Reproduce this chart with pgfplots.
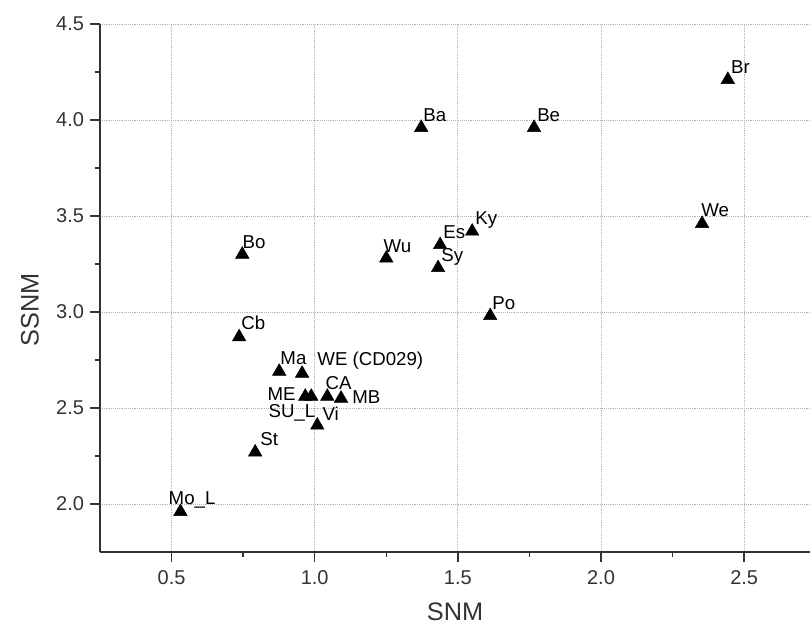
\documentclass[border=0pt]{standalone}
\usepackage{pgfplots}
\pgfplotsset{compat=1.18}
\usepackage{pgfplotstable}
\usepackage{fontspec}
\setmainfont{Liberation Sans}

\pgfplotstableread[col sep=comma]{
x,y,label,dx,dy
0.531,1.96,Mo\_L,-12,7
0.792,2.27,St,5,7
0.736,2.87,Cb,2,7
0.747,3.30,Bo,0,6
0.876,2.69,Ma,1,7
0.956,2.68,WE (CD029),15,8
0.967,2.56,ME,-38,-4
0.988,2.56,SU\_L,-43,-21
1.044,2.56,CA,-2,7
1.092,2.55,MB,11,-5
1.009,2.41,Vi,5,5
1.25,3.28,Wu,-3,6
1.431,3.23,Sy,3,6
1.438,3.35,Es,3,6
1.55,3.42,Ky,3,7
1.613,2.98,Po,2,6
1.372,3.96,Ba,2,6
1.766,3.96,Be,3,6
2.353,3.46,We,-1,7
2.443,4.21,Br,3,6
}\datatable

\definecolor{axgray}{HTML}{333333}

\begin{document}
\begin{tikzpicture}
\begin{axis}[
  name=ax,
  scale only axis,
  width=532.5pt, height=396pt,
  xmin=0.25, xmax=2.73,
  ymin=1.75, ymax=4.5,
  axis x line*=bottom,
  axis y line*=left,
  axis line style={-, axgray, line width=1.1pt},
  xtick={0.5,1.0,1.5,2.0,2.5},
  ytick={2.0,2.5,3.0,3.5,4.0,4.5},
  minor x tick num=1,
  minor y tick num=1,
  tick align=outside,
  major tick length=7.5pt,
  minor tick length=4pt,
  tick style={axgray, line width=1.1pt},
  grid=major,
  grid style={densely dotted, gray!60, line width=0.6pt},
  /pgf/number format/.cd, fixed, fixed zerofill, precision=1, assume math mode=true,
  /pgfplots/.cd,
  tick label style={font=\fontsize{15}{15}\selectfont, text=axgray},
  xticklabel style={yshift=-3pt},
  yticklabel style={xshift=-1pt},
  xlabel=SNM, ylabel=SSNM,
  label style={font=\fontsize{19}{19}\selectfont, text=axgray},
  xlabel style={at={(axis description cs:0.5,-0.1136)}, anchor=center},
  ylabel style={at={(axis description cs:-0.0986,0.458)}, anchor=center},
  clip=false,
]
\addplot[
  only marks,
  mark=triangle*,
  mark size=5.8pt,
  mark options={fill=black, draw=black},
  point meta=explicit symbolic,
  visualization depends on={\thisrow{dx}\as\dx},
  visualization depends on={\thisrow{dy}\as\dy},
  nodes near coords,
  nodes near coords style={anchor=base west, inner sep=0pt,
    font=\fontsize{14}{14}\selectfont, text=black,
    xshift=\dx*0.75pt, yshift=\dy*0.75pt},
] table[x=x, y=y, meta=label] {\datatable};
\end{axis}
\pgfresetboundingbox
\path[use as bounding box] ([xshift=-75pt,yshift=-60pt]ax.south west) rectangle ([yshift=18pt]ax.north east);
\end{tikzpicture}
\end{document}
